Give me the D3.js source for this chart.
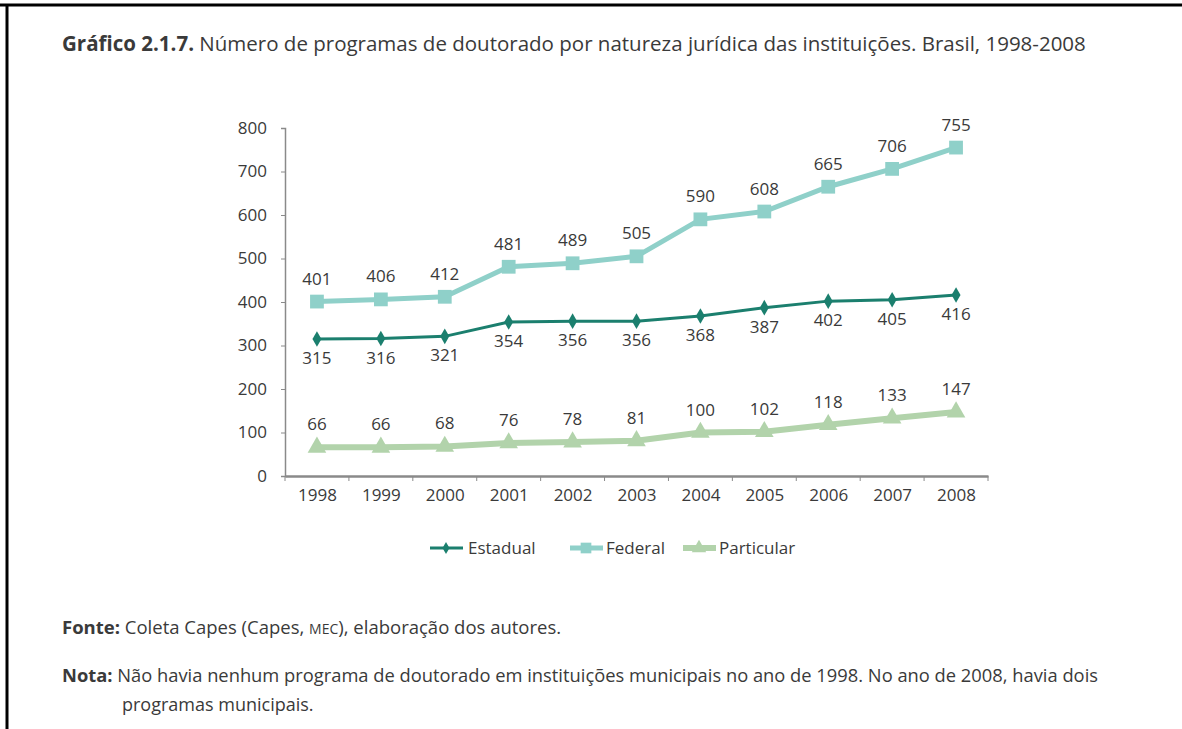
<!DOCTYPE html>
<html>
<head>
<meta charset="utf-8">
<script src="https://d3js.org/d3.v7.min.js"></script>
<style>
  body { margin: 0; background: #fff; }
  svg { display: block; }
</style>
</head>
<body>
<div id="chart"></div>
<script>
// dados do gráfico
const years = ['1998','1999','2000','2001','2002','2003','2004','2005','2006','2007','2008'];
const estadual = [315, 316, 321, 354, 356, 356, 368, 387, 402, 405, 416];
const federal = [401, 406, 412, 481, 489, 505, 590, 608, 665, 706, 755];
const particular = [66, 66, 68, 76, 78, 81, 100, 102, 118, 133, 147];
const yTicks = [0, 100, 200, 300, 400, 500, 600, 700, 800];

const W = 1182, H = 729;
const font = "'Open Sans', 'Noto Sans', sans-serif";
const textColor = '#3a3a3a';

const svg = d3.select('#chart').append('svg')
    .attr('width', W)
    .attr('height', H);

// moldura (topo e esquerda)
svg.append('line').attr('x1', 0).attr('x2', W).attr('y1', 5).attr('y2', 5)
    .attr('stroke', '#000').attr('stroke-width', 3);
svg.append('line').attr('x1', 7).attr('x2', 7).attr('y1', 5).attr('y2', H)
    .attr('stroke', '#000').attr('stroke-width', 3);

// título
const title = svg.append('text')
    .attr('x', 62).attr('y', 51)
    .attr('font-family', font).attr('font-size', 20.5)
    .attr('fill', textColor);
title.append('tspan').attr('font-weight', 'bold').text('Gráfico 2.1.7.');
title.append('tspan').text(' Número de programas de doutorado por natureza jurídica das instituições. Brasil, 1998-2008');

const x = d3.scalePoint().domain(years).range([285, 988]).padding(0.5);
const y = d3.scaleLinear().domain([0, 800]).range([476, 128]);

// eixo y
const yAxis = svg.append('g')
    .attr('transform', 'translate(285,0)')
    .call(d3.axisLeft(y).tickValues(yTicks).tickSize(4).tickPadding(14));
yAxis.select('.domain').attr('stroke', '#8a8a8a').attr('stroke-width', 1.5);
yAxis.selectAll('.tick line').attr('stroke', '#8a8a8a');
yAxis.selectAll('text').attr('font-family', font).attr('font-size', 17).attr('fill', textColor);

// eixo x
const xAxis = svg.append('g')
    .attr('transform', 'translate(0,476)')
    .call(d3.axisBottom(x).tickSize(0).tickPadding(13));
xAxis.select('.domain').attr('stroke', '#8a8a8a').attr('stroke-width', 2.5);
xAxis.selectAll('text').attr('font-family', font).attr('font-size', 17).attr('fill', textColor);
// marcas entre categorias
const step = x.step();
const sep = d3.range(years.length + 1).map(i => 285 + i * step);
xAxis.selectAll('.sep').data(sep).enter().append('line')
    .attr('x1', d => d).attr('x2', d => d)
    .attr('y1', 0).attr('y2', 5)
    .attr('stroke', '#8a8a8a').attr('stroke-width', 1);

const series = [
    { name: 'Estadual', values: estadual, color: '#1b7f6e', width: 3, symbol: d3.symbolDiamond, size: 70, dy: 25 },
    { name: 'Federal', values: federal, color: '#8fd0c9', width: 5, symbol: d3.symbolSquare, size: 190, dy: -17 },
    { name: 'Particular', values: particular, color: '#b2d3ab', width: 6, symbol: d3.symbolTriangle, size: 150, dy: -17 }
];

const line = d3.line().x((d, i) => x(years[i])).y(d => y(d));

series.forEach(s => {
    const g = svg.append('g');
    g.append('path')
        .datum(s.values)
        .attr('d', line)
        .attr('fill', 'none')
        .attr('stroke', s.color)
        .attr('stroke-width', s.width);
    g.selectAll('path.pt').data(s.values).enter().append('path')
        .attr('class', 'pt')
        .attr('d', d3.symbol().type(s.symbol).size(s.size))
        .attr('transform', (d, i) => `translate(${x(years[i])},${y(d)})`)
        .attr('fill', s.color);
    g.selectAll('text').data(s.values).enter().append('text')
        .attr('x', (d, i) => x(years[i]))
        .attr('y', d => y(d) + s.dy)
        .attr('text-anchor', 'middle')
        .attr('font-family', font).attr('font-size', 17)
        .attr('fill', textColor)
        .text(d => d);
});

// legenda
const legendX = [430, 570, 683];
const legend = svg.append('g').attr('transform', 'translate(0,548)');
series.forEach((s, i) => {
    const lg = legend.append('g').attr('transform', `translate(${legendX[i]},0)`);
    lg.append('line').attr('x1', 0).attr('x2', 33).attr('y1', 0).attr('y2', 0)
        .attr('stroke', s.color).attr('stroke-width', s.width);
    lg.append('path')
        .attr('d', d3.symbol().type(s.symbol).size(s.size * 0.6))
        .attr('transform', 'translate(16,0)')
        .attr('fill', s.color);
    lg.append('text').attr('x', i === 0 ? 38 : 36).attr('y', 6)
        .attr('font-family', font).attr('font-size', 17)
        .attr('fill', textColor)
        .text(s.name);
});

// notas
const noteFont = font;
const fonte = svg.append('text').attr('x', 62).attr('y', 634)
    .attr('font-family', noteFont).attr('font-size', 18.5).attr('fill', textColor);
fonte.append('tspan').attr('font-weight', 'bold').text('Fonte:');
fonte.append('tspan').text(' Coleta Capes (Capes, ');
fonte.append('tspan').attr('font-size', 14).text('MEC');
fonte.append('tspan').text('), elaboração dos autores.');

const nota = svg.append('text').attr('x', 62).attr('y', 682)
    .attr('font-family', noteFont).attr('font-size', 18).attr('fill', textColor)
    .attr('textLength', 1036).attr('lengthAdjust', 'spacingAndGlyphs');
nota.append('tspan').attr('font-weight', 'bold').text('Nota:');
nota.append('tspan').text(' Não havia nenhum programa de doutorado em instituições municipais no ano de 1998. No ano de 2008, havia dois');
svg.append('text').attr('x', 122).attr('y', 711)
    .attr('font-family', noteFont).attr('font-size', 18).attr('fill', textColor)
    .text('programas municipais.');
</script>
</body>
</html>
